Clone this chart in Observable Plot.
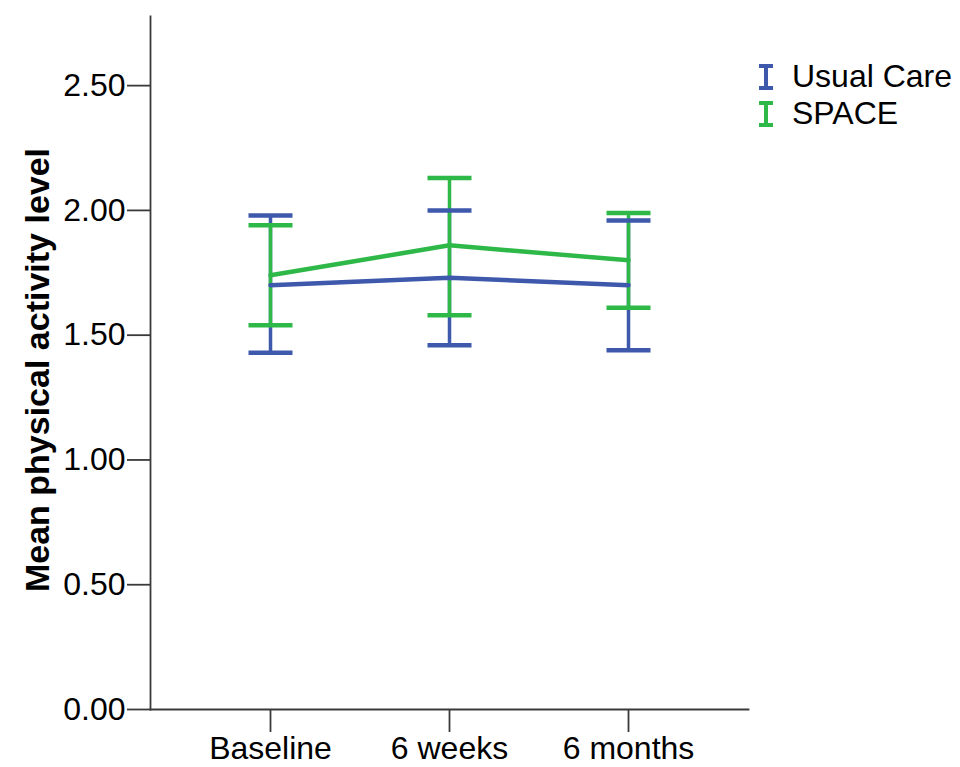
<!DOCTYPE html>
<html>
<head>
<meta charset="utf-8">
<script src="https://cdn.jsdelivr.net/npm/d3@7"></script>
<script src="https://cdn.jsdelivr.net/npm/@observablehq/plot@0.6"></script>
<style>
  html, body { margin: 0; padding: 0; background: #fff; }
  #wrap { position: relative; width: 960px; height: 767px; font-family: "Liberation Sans", Arial, sans-serif; }
  #legend { position: absolute; left: 758px; top: 58px; font-size: 32px; color: #000; }
  .row { display: flex; align-items: center; height: 37px; }
  .row svg { margin-right: 18px; }
</style>
</head>
<body>
<div id="wrap"></div>
<script>
const timepoints = ["Baseline", "6 weeks", "6 months"];
const groups = ["Usual Care", "SPACE"];
const groupColors = ["#3E58AC", "#2EB848"];

const usualMean  = [1.70, 1.73, 1.70];
const usualLower = [1.43, 1.46, 1.44];
const usualUpper = [1.98, 2.00, 1.96];

const spaceMean  = [1.74, 1.86, 1.80];
const spaceLower = [1.54, 1.58, 1.61];
const spaceUpper = [1.94, 2.13, 1.99];

const yTicks = [0, 0.5, 1.0, 1.5, 2.0, 2.5];
const yLabel = "Mean physical activity level";

const series = [
  {group: groups[0], mean: usualMean, lower: usualLower, upper: usualUpper},
  {group: groups[1], mean: spaceMean, lower: spaceLower, upper: spaceUpper}
];
const rows = series.flatMap(s => timepoints.map((t, i) => ({
  time: t, group: s.group, mean: s.mean[i], lower: s.lower[i], upper: s.upper[i]
})));

const axisColor = "#3a3a3a";
// horizontal cap symbol for error bars
const capSymbol = {draw(context) { context.moveTo(-22, 0); context.lineTo(22, 0); }};

const chart = Plot.plot({
  width: 960,
  height: 767,
  marginLeft: 150,
  marginRight: 212,
  marginTop: 16,
  marginBottom: 58,
  style: {fontFamily: "'Liberation Sans', Arial, sans-serif", background: "#fff"},
  x: {domain: timepoints, type: "point", padding: 0.67, label: null},
  y: {domain: [0, 2.777], label: null},
  color: {domain: groups, range: groupColors},
  marks: [
    Plot.frame({anchor: "left", stroke: axisColor, strokeWidth: 1.8}),
    Plot.frame({anchor: "bottom", stroke: axisColor, strokeWidth: 1.8}),
    Plot.axisY({ticks: yTicks, tickFormat: d3.format(".2f"), tickSize: 23, tickPadding: 2, fontSize: 32, stroke: axisColor, strokeWidth: 1.8, fill: "#000", label: null}),
    Plot.axisX({tickSize: 23, tickPadding: 4, fontSize: 32, stroke: axisColor, strokeWidth: 1.8, fill: "#000", label: null}),
    Plot.text([yLabel], {frameAnchor: "left", textAnchor: "middle", rotate: -90, dx: -112, dy: 7, fontSize: 34, fontWeight: "bold", fill: "#000"}),
    Plot.ruleX(rows, {x: "time", y1: "lower", y2: "upper", stroke: "group", strokeWidth: 3.5}),
    Plot.line(rows, {x: "time", y: "mean", z: "group", stroke: "group", strokeWidth: 4.5}),
    Plot.dot(rows, {x: "time", y: "upper", stroke: "group", strokeWidth: 4.5, fill: "none", symbol: capSymbol}),
    Plot.dot(rows, {x: "time", y: "lower", stroke: "group", strokeWidth: 4.5, fill: "none", symbol: capSymbol})
  ]
});

const wrap = document.getElementById("wrap");
wrap.appendChild(chart);

const legend = document.createElement("div");
legend.id = "legend";
groups.forEach((g, i) => {
  const row = document.createElement("div");
  row.className = "row";
  row.innerHTML = `<svg width="16" height="26" viewBox="0 0 16 26">
    <line x1="1" x2="15" y1="2" y2="2" stroke="${groupColors[i]}" stroke-width="4"/>
    <line x1="8" x2="8" y1="2" y2="24" stroke="${groupColors[i]}" stroke-width="4"/>
    <line x1="1" x2="15" y1="24" y2="24" stroke="${groupColors[i]}" stroke-width="4"/>
  </svg><span>${g}</span>`;
  legend.appendChild(row);
});
wrap.appendChild(legend);
</script>
</body>
</html>
